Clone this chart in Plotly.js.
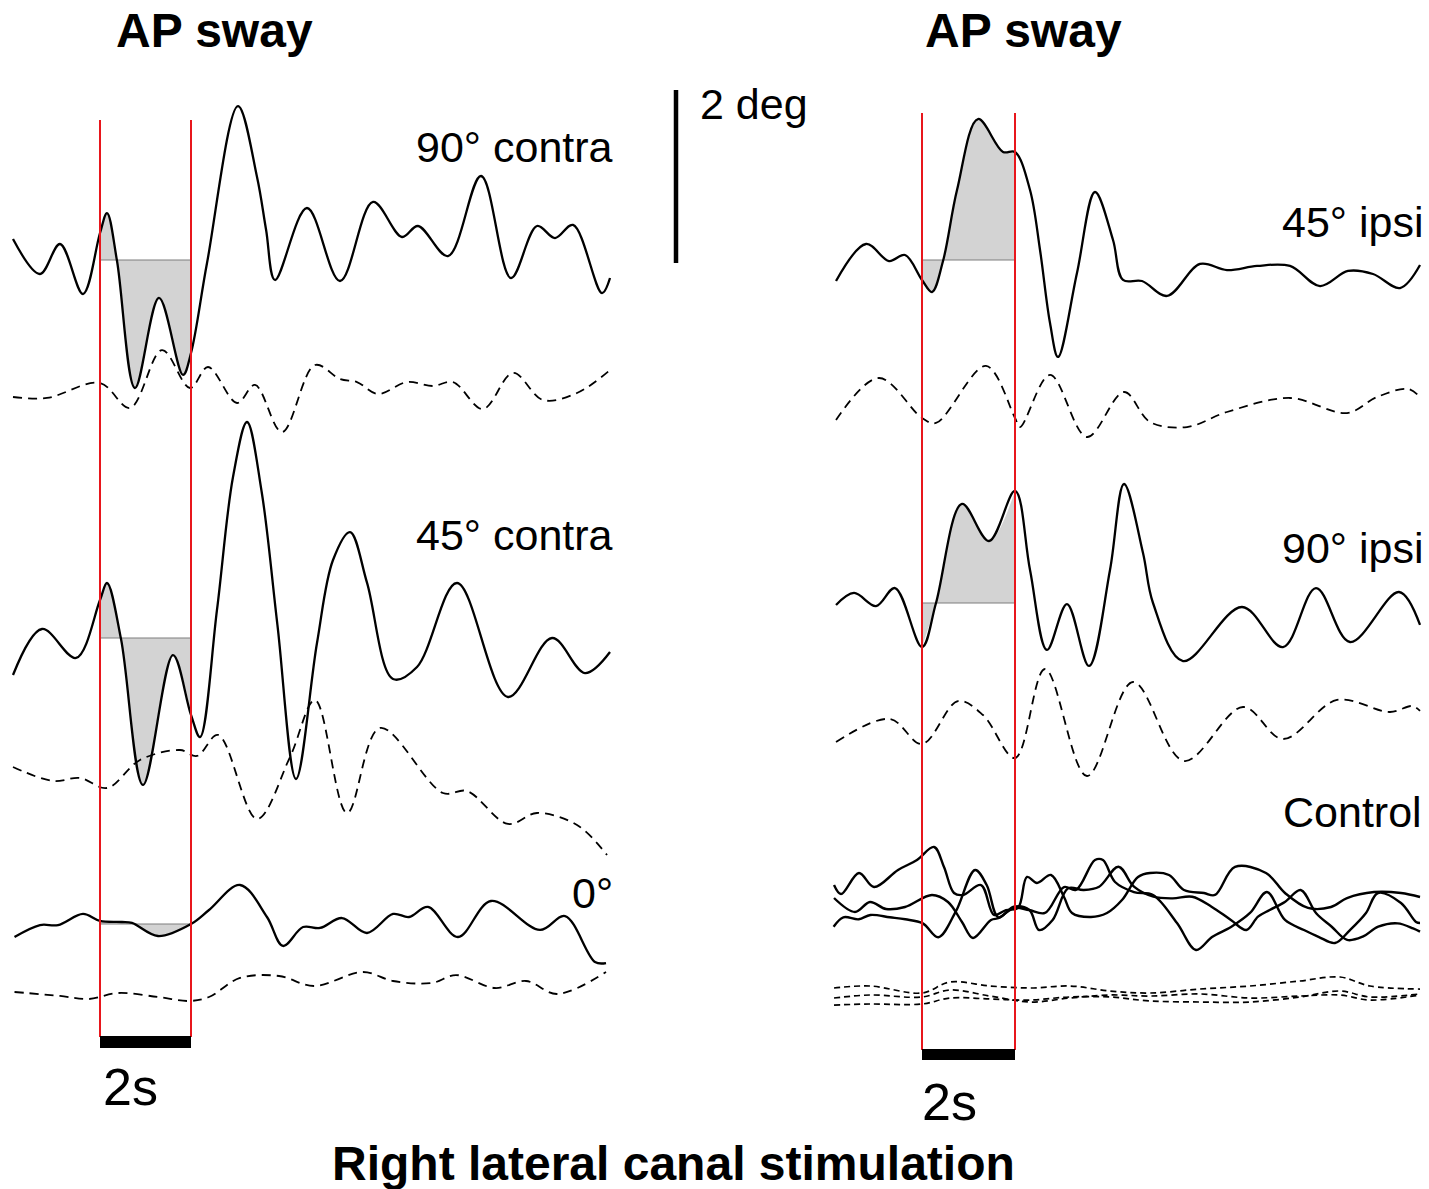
<!DOCTYPE html>
<html><head><meta charset="utf-8">
<script src="https://cdn.plot.ly/plotly-3.0.1.min.js"></script>
<style>html,body{margin:0;padding:0;background:#fff;overflow:hidden}</style>
</head><body><div id="chart" style="width:1429px;height:1189px"></div>
<script>
// ---------------- DATA (time in s from stimulus onset, sway in deg) ----------------
const stimOn = 0, stimOff = 2;      // stimulus window, s
const scaleDeg = 2;                 // vertical scale bar, deg
const scaleSec = 2;                 // time scale bar, s

// Left panel: 90° contra
const L1_t = [-1.912,-1.319,-0.879,-0.374,0,0.154,0.374,0.769,1.297,1.824,2.0,2.352,3.033,3.451,3.650,3.846,4.549,5.275,6.0,6.637,6.989,7.648,8.374,9.033,9.604,10.0,10.396,11.033,11.209];
const L1_v = [0.243,-0.162,0.185,-0.393,0.312,0.543,-0.012,-1.480,-0.439,-1.329,-1.075,-0.035,1.780,0.960,0.350,-0.231,0.601,-0.243,0.671,0.266,0.393,0.046,0.971,-0.208,0.393,0.254,0.405,-0.382,-0.208];
const L1d_t = [-1.912,-1.165,0,0.659,1.363,1.978,2.374,3.011,3.407,4.0,4.725,5.275,5.648,6.110,6.747,7.319,7.758,8.418,9.077,9.736,10.484,11.209];
const L1d_v = [-0.081,-0.092,0.081,-0.208,0.462,0.023,0.266,-0.150,0.058,-0.486,0.289,0.127,0.092,-0.046,0.092,0.046,0.092,-0.220,0.197,-0.116,-0.035,0.231];
// Left panel: 45° contra
const L2_t = [-1.912,-1.275,-0.527,0,0.154,0.462,0.945,1.604,2.0,2.198,2.571,2.923,3.231,3.550,3.900,4.308,4.769,5.121,5.495,5.868,6.440,6.967,7.846,8.967,9.934,10.659,11.209];
const L2_v = [-0.428,0.104,-0.231,0.439,0.636,-0.012,-1.699,-0.197,-0.890,-1.145,0.324,1.861,2.497,1.700,0.150,-1.630,-0.058,0.902,1.225,0.640,-0.474,-0.335,0.636,-0.682,0.0,-0.405,-0.162];
const L2d_t = [-1.912,-1.033,-0.440,0.154,0.879,1.758,2.132,2.593,3.451,4.176,4.725,5.429,6.154,7.538,8.066,8.967,9.604,10.484,11.143];
const L2d_v = [0.035,-0.127,-0.092,-0.208,0.116,0.231,0.162,0.405,-0.566,0.150,0.809,-0.497,0.486,-0.266,-0.243,-0.624,-0.497,-0.636,-0.983];
// Left panel: 0°
const L3_t = [-1.879,-1.319,-0.923,-0.374,0,0.484,0.703,1.275,2.0,2.396,3.077,3.670,4.022,4.462,4.835,5.319,5.868,6.440,6.791,7.209,7.868,8.593,9.670,10.220,10.879,11.121];
const L3_v = [-0.150,-0.012,-0.012,0.116,0.035,0.023,0.012,-0.139,0.0,0.162,0.451,0.081,-0.254,-0.035,-0.046,0.069,-0.104,0.116,0.081,0.197,-0.150,0.266,-0.069,0.092,-0.439,-0.451];
const L3d_t = [-1.879,-0.879,-0.242,0.396,1.275,1.956,2.396,3.077,3.934,4.703,5.780,6.440,7.297,7.824,8.681,9.363,10.044,11.121];
const L3d_v = [-0.023,-0.069,-0.104,-0.035,-0.081,-0.127,-0.081,0.139,0.162,0.046,0.208,0.104,0.081,0.173,0.023,0.104,-0.046,0.208];

// Right panel: 45° ipsi
const R1_t = [-1.849,-1.204,-0.710,-0.366,0,0.215,0.452,0.753,1.204,1.742,2.0,2.323,2.538,2.753,2.925,3.333,3.720,4.108,4.323,4.731,5.269,5.978,6.559,7.204,7.914,8.559,9.161,9.699,10.280,10.710];
const R1_v = [-0.243,0.185,-0.012,0.058,-0.231,-0.370,-0.012,0.809,1.630,1.249,1.249,0.809,0.116,-0.728,-1.121,-0.150,0.786,0.231,-0.231,-0.243,-0.416,-0.046,-0.116,-0.069,-0.069,-0.301,-0.127,-0.162,-0.324,-0.058];
const R1d_t = [-1.849,-0.925,0,0.301,1.376,2.0,2.108,2.753,3.548,4.344,4.903,5.699,6.559,7.914,9.140,9.785,10.452,10.710];
const R1d_v = [-0.116,0.370,-0.092,-0.150,0.509,-0.092,-0.197,0.405,-0.312,0.208,-0.139,-0.197,-0.023,0.139,-0.035,0.150,0.243,0.150];
// Right panel: 90° ipsi
const R2_t = [-1.849,-1.462,-0.989,-0.581,0,0.301,0.860,1.441,2.0,2.323,2.688,3.118,3.591,4.043,4.344,4.753,4.968,5.613,6.882,7.763,8.473,9.204,10.258,10.710];
const R2_v = [-0.023,0.116,-0.035,0.173,-0.509,0.0,1.145,0.717,1.295,0.382,-0.543,-0.012,-0.728,0.382,1.376,0.578,0.0,-0.671,-0.046,-0.509,0.173,-0.451,0.127,-0.254];
const R2d_t = [-1.849,-0.688,0,0.774,1.312,2.0,2.645,3.548,4.538,5.634,6.903,7.763,8.925,10.065,10.538,10.710];
const R2d_v = [-0.139,0.127,-0.162,0.335,0.173,-0.324,0.705,-0.532,0.555,-0.358,0.266,-0.104,0.347,0.208,0.277,0.220];

// Right panel: Control (three trials)
const C1_t = [-1.892,-1.742,-1.355,-1.032,-0.516,-0.108,0.258,0.473,0.688,0.882,1.269,1.548,1.806,2.065,2.258,2.473,2.774,3.054,3.226,3.634,3.978,4.301,4.645,4.903,5.312,5.634,6.065,6.301,6.731,7.398,7.806,8.301,8.796,9.140,9.720,10.301,10.710];
const C1_v = [0.173,0.069,0.312,0.150,0.347,0.462,0.613,0.382,0.081,0.058,0.173,-0.173,-0.116,-0.092,0.266,0.197,0.289,0.035,-0.150,-0.197,-0.150,0.0,0.266,0.312,0.289,0.116,0.081,0.058,0.382,0.312,0.081,-0.092,-0.081,0.023,0.092,0.081,0.035];
const C2_t = [-1.892,-1.441,-1.118,-0.774,-0.366,0.215,0.559,0.860,1.097,1.484,1.656,1.978,2.301,2.645,3.054,3.312,3.720,3.892,4.151,4.559,4.968,5.484,5.892,6.237,6.645,7.054,7.419,7.806,8.215,8.538,8.882,9.204,9.548,9.806,10.301,10.624,10.710];
const C2_v = [0.023,-0.139,-0.023,-0.104,-0.081,0.058,-0.023,-0.254,-0.439,-0.231,-0.208,-0.092,-0.116,-0.150,0.150,0.116,0.462,0.462,0.208,0.092,0.058,-0.266,-0.578,-0.428,-0.312,-0.150,0.092,-0.231,-0.347,-0.428,-0.497,-0.347,-0.150,0.081,-0.035,-0.254,-0.266];
const C3_t = [-1.901,-1.692,-1.359,-1.110,-0.692,-0.359,0.017,0.351,0.725,1.142,1.391,1.643,1.976,2.310,2.518,2.809,3.142,3.475,3.809,4.226,4.559,4.976,5.393,5.811,6.226,6.643,6.976,7.226,7.477,7.811,8.144,8.477,8.811,9.144,9.477,9.811,10.228,10.561,10.710];
const C3_v = [-0.309,-0.200,-0.223,-0.173,-0.200,-0.223,-0.270,-0.431,-0.135,0.347,0.173,-0.200,-0.077,-0.116,-0.347,-0.231,0.135,0.116,0.154,0.385,0.154,0.038,0.019,0.038,-0.077,-0.231,-0.347,-0.193,-0.116,-0.019,0.116,-0.154,-0.309,-0.462,-0.424,-0.309,-0.270,-0.328,-0.366];
const Cd_t = [-1.892,-1.118,0,0.602,1.462,2.323,3.183,4.043,4.903,5.978,7.054,8.129,8.989,9.634,10.710];
const Cd1_v = [0.081,0.104,0.023,0.150,0.104,0.081,0.104,0.046,0.023,0.069,0.104,0.162,0.208,0.104,0.069];
const Cd2_v = [-0.116,-0.104,-0.104,-0.035,-0.046,-0.058,-0.023,-0.023,-0.069,-0.081,-0.081,-0.023,0.046,-0.023,0.012];
const Cd3_v = [-0.035,0.0,-0.023,0.058,-0.012,-0.081,-0.035,0.0,-0.012,0.012,-0.035,-0.012,0.0,-0.058,0.0];

// Labels
const panelTitle = 'AP sway';
const leftLabels = ['90° contra','45° contra','0°'];
const rightLabels = ['45° ipsi','90° ipsi','Control'];
const scaleLabel = '2 deg';
const timeLabel = '2s';
const figTitle = 'Right lateral canal stimulation';

// ---------------- LAYOUT GEOMETRY (pixels) ----------------
const W = 1429, H = 1189;
const PX_PER_DEG = 86.5;
const LEFT = {px0: 100, pxPerS: 45.5, dom: [0, 0.5]};
const RIGHT = {px0: 922, pxPerS: 46.5, dom: [0.55, 1]};
function xrange(P){ return [(P.dom[0]*W - P.px0)/P.pxPerS, (P.dom[1]*W - P.px0)/P.pxPerS]; }
const yBase = px => -px / PX_PER_DEG;
const py = px => 1 - px / H;
const FONT = 'Liberation Sans, Arial, Helvetica, sans-serif';

const traces = [];
const solid = {color:'#000', width:2.3};
const dashed = {color:'#000', width:1.8, dash:'9px,6px'};

function curve(t, v, basePx, xa, line){
  const b = yBase(basePx);
  traces.push({type:'scatter', mode:'lines', x:t, y:v.map(d=>b+d), xaxis:xa, yaxis:'y',
    line:Object.assign({shape:'spline', smoothing:1}, line), hoverinfo:'skip', showlegend:false});
}
function window_fill(t, v, basePx, xa){
  const b = yBase(basePx);
  const xs=[], ys=[];
  t.forEach((tt,i)=>{ if(tt>=stimOn-1e-9 && tt<=stimOff+1e-9){ xs.push(tt); ys.push(b+v[i]); } });
  traces.push({type:'scatter', mode:'lines', x:[stimOn, stimOff], y:[b,b], xaxis:xa, yaxis:'y',
    line:{width:0, color:'rgba(0,0,0,0)'}, hoverinfo:'skip', showlegend:false});
  traces.push({type:'scatter', mode:'lines', x:xs, y:ys, xaxis:xa, yaxis:'y', fill:'tonexty',
    fillcolor:'#d3d3d3', line:{width:0, color:'rgba(0,0,0,0)', shape:'spline', smoothing:1},
    hoverinfo:'skip', showlegend:false});
  traces.push({type:'scatter', mode:'lines', x:[stimOn, stimOff], y:[b,b], xaxis:xa, yaxis:'y',
    line:{width:1.2, color:'#7f7f7f'}, hoverinfo:'skip', showlegend:false});
}

// left panel
window_fill(L1_t, L1_v, 260, 'x');
window_fill(L2_t, L2_v, 638, 'x');
window_fill(L3_t, L3_v, 924, 'x');
curve(L1_t, L1_v, 260, 'x', solid);
curve(L1d_t, L1d_v, 390, 'x', dashed);
curve(L2_t, L2_v, 638, 'x', solid);
curve(L2d_t, L2d_v, 770, 'x', dashed);
curve(L3_t, L3_v, 924, 'x', solid);
curve(L3d_t, L3d_v, 990, 'x', dashed);
// right panel
window_fill(R1_t, R1_v, 260, 'x2');
window_fill(R2_t, R2_v, 603, 'x2');
curve(R1_t, R1_v, 260, 'x2', solid);
curve(R1d_t, R1d_v, 410, 'x2', dashed);
curve(R2_t, R2_v, 603, 'x2', solid);
curve(R2d_t, R2d_v, 730, 'x2', dashed);
const ctrl = {color:'#000', width:2.4};
curve(C1_t, C1_v, 900, 'x2', ctrl);
curve(C2_t, C2_v, 900, 'x2', ctrl);
curve(C3_t, C3_v, 900, 'x2', ctrl);
const cdash = {color:'#000', width:1.7, dash:'6px,4px'};
curve(Cd_t, Cd1_v, 995, 'x2', cdash);
curve(Cd_t, Cd2_v, 995, 'x2', cdash);
curve(Cd_t, Cd3_v, 995, 'x2', cdash);

// shapes: stimulus lines, time bars, amplitude scale bar
const RED = '#e8161c';
const shapes = [];
[['x',120,1037],['x2',113,1050]].forEach(([xa,top,bot])=>{
  [stimOn, stimOff].forEach(s=>shapes.push({type:'line', xref:xa, yref:'paper', x0:s, x1:s,
    y0:py(top), y1:py(bot), line:{color:RED, width:2}, layer:'above'}));
});
shapes.push({type:'rect', xref:'x', yref:'paper', x0:stimOn, x1:stimOn+scaleSec, y0:py(1048), y1:py(1036),
  fillcolor:'#000', line:{width:0}, layer:'above'});
shapes.push({type:'rect', xref:'x2', yref:'paper', x0:stimOn, x1:stimOn+scaleSec, y0:py(1060), y1:py(1049),
  fillcolor:'#000', line:{width:0}, layer:'above'});
const sbX = (676 - LEFT.px0)/LEFT.pxPerS, sbTop = yBase(90);
shapes.push({type:'line', xref:'x', yref:'y', x0:sbX, x1:sbX, y0:sbTop, y1:sbTop-scaleDeg,
  line:{color:'#000', width:4.5}, layer:'above'});

function ann(text, xpx, ypx, size, bold, xanchor){
  return {text: bold ? '<b>'+text+'</b>' : text, xref:'paper', yref:'paper', x:xpx/W, y:py(ypx),
    xanchor:xanchor, yanchor:'middle', showarrow:false, font:{family:FONT, size:size, color:'#000'}};
}
const annotations = [
  ann(panelTitle, 214, 31, 48, true, 'center'),
  ann(panelTitle, 1023, 31, 48, true, 'center'),
  ann(leftLabels[0], 615, 147, 43, false, 'right'),
  ann(leftLabels[1], 615, 535, 43, false, 'right'),
  ann(leftLabels[2], 615, 893, 43, false, 'right'),
  ann(rightLabels[0], 1426, 222, 43, false, 'right'),
  ann(rightLabels[1], 1426, 548, 43, false, 'right'),
  ann(rightLabels[2], 1424, 812, 43, false, 'right'),
  ann(scaleLabel, 698, 104, 43, false, 'left'),
  ann(timeLabel, 130, 1087, 52, false, 'center'),
  ann(timeLabel, 949, 1102, 52, false, 'center'),
  ann(figTitle, 673, 1163, 48, true, 'center')
];

const layout = {
  width:W, height:H, margin:{l:0,r:0,t:0,b:0}, paper_bgcolor:'#fff', plot_bgcolor:'rgba(0,0,0,0)',
  showlegend:false,
  xaxis:{domain:LEFT.dom, range:xrange(LEFT), visible:false, fixedrange:true},
  xaxis2:{domain:RIGHT.dom, range:xrange(RIGHT), visible:false, anchor:'y', fixedrange:true},
  yaxis:{domain:[0,1], range:[-H/PX_PER_DEG, 0], visible:false, fixedrange:true},
  shapes:shapes, annotations:annotations
};
Plotly.newPlot('chart', traces, layout, {staticPlot:true, displayModeBar:false});
</script></body></html>
